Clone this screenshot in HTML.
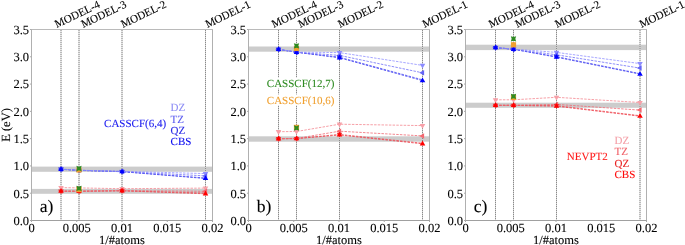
<!DOCTYPE html>
<html><head><meta charset="utf-8"><style>
html,body{margin:0;padding:0;background:#fff;}
svg{display:block;}
text{font-family:"Liberation Serif", serif;text-rendering:geometricPrecision;}
</style></head><body>
<svg width="685" height="245" viewBox="0 0 685 245" font-family="Liberation Serif, serif" style="will-change:transform">
<rect width="685" height="245" fill="#fff"/>
<rect x="32.00" y="166.60" width="180.00" height="5.20" fill="#cccccc"/>
<rect x="32.00" y="188.90" width="180.00" height="4.90" fill="#cccccc"/>
<line x1="61.00" y1="30.00" x2="61.00" y2="220.50" stroke="#d2d2d2" stroke-width="1"/>
<line x1="61.00" y1="30.00" x2="61.00" y2="220.50" stroke="#8a8a8a" stroke-width="1" stroke-dasharray="1,1"/>
<line x1="79.00" y1="30.00" x2="79.00" y2="220.50" stroke="#d2d2d2" stroke-width="1"/>
<line x1="79.00" y1="30.00" x2="79.00" y2="220.50" stroke="#8a8a8a" stroke-width="1" stroke-dasharray="1,1"/>
<line x1="122.00" y1="30.00" x2="122.00" y2="220.50" stroke="#d2d2d2" stroke-width="1"/>
<line x1="122.00" y1="30.00" x2="122.00" y2="220.50" stroke="#8a8a8a" stroke-width="1" stroke-dasharray="1,1"/>
<line x1="205.50" y1="30.00" x2="205.50" y2="220.50" stroke="#d2d2d2" stroke-width="1"/>
<line x1="205.50" y1="30.00" x2="205.50" y2="220.50" stroke="#8a8a8a" stroke-width="1" stroke-dasharray="1,1"/>
<line x1="31.50" y1="29.00" x2="31.50" y2="221.00" stroke="#b0b0b0" stroke-width="1"/>
<line x1="212.50" y1="29.00" x2="212.50" y2="221.00" stroke="#b0b0b0" stroke-width="1"/>
<line x1="31.00" y1="29.50" x2="213.00" y2="29.50" stroke="#bababa" stroke-width="1"/>
<line x1="31.00" y1="220.50" x2="213.00" y2="220.50" stroke="#a0a0a0" stroke-width="1"/>
<line x1="30.00" y1="220.50" x2="31.50" y2="220.50" stroke="#aaaaaa" stroke-width="1"/>
<line x1="30.00" y1="193.21" x2="31.50" y2="193.21" stroke="#aaaaaa" stroke-width="1"/>
<line x1="30.00" y1="165.93" x2="31.50" y2="165.93" stroke="#aaaaaa" stroke-width="1"/>
<line x1="30.00" y1="138.64" x2="31.50" y2="138.64" stroke="#aaaaaa" stroke-width="1"/>
<line x1="30.00" y1="111.36" x2="31.50" y2="111.36" stroke="#aaaaaa" stroke-width="1"/>
<line x1="30.00" y1="84.07" x2="31.50" y2="84.07" stroke="#aaaaaa" stroke-width="1"/>
<line x1="30.00" y1="56.79" x2="31.50" y2="56.79" stroke="#aaaaaa" stroke-width="1"/>
<line x1="30.00" y1="29.50" x2="31.50" y2="29.50" stroke="#aaaaaa" stroke-width="1"/>
<line x1="31.50" y1="220.50" x2="31.50" y2="222.00" stroke="#aaaaaa" stroke-width="1"/>
<line x1="76.75" y1="220.50" x2="76.75" y2="222.00" stroke="#aaaaaa" stroke-width="1"/>
<line x1="122.00" y1="220.50" x2="122.00" y2="222.00" stroke="#aaaaaa" stroke-width="1"/>
<line x1="167.25" y1="220.50" x2="167.25" y2="222.00" stroke="#aaaaaa" stroke-width="1"/>
<line x1="212.50" y1="220.50" x2="212.50" y2="222.00" stroke="#aaaaaa" stroke-width="1"/>
<polyline points="61.00,191.20 79.00,191.30 122.00,190.80 205.50,193.80" fill="none" stroke="#f0404c" stroke-width="0.80" stroke-dasharray="2.5,1.2"/>
<polyline points="61.00,191.20 79.00,191.20 122.00,190.70 205.50,193.00" fill="none" stroke="#ee5058" stroke-width="0.80" stroke-dasharray="2.5,1.2"/>
<polyline points="61.00,191.10 79.00,191.20 122.00,190.60 205.50,191.30" fill="none" stroke="#f06a74" stroke-width="0.80" stroke-dasharray="2.5,1.2"/>
<polyline points="61.00,187.60 79.00,187.90 122.00,188.70 205.50,188.10" fill="none" stroke="#f48890" stroke-width="0.80" stroke-dasharray="2.5,1.2"/>
<polyline points="61.00,169.30 79.00,170.40 122.00,171.70 205.50,178.50" fill="none" stroke="#3a3af0" stroke-width="0.80" stroke-dasharray="2.5,1.2"/>
<polyline points="61.00,169.20 79.00,170.30 122.00,171.60 205.50,178.00" fill="none" stroke="#5050f2" stroke-width="0.80" stroke-dasharray="2.5,1.2"/>
<polyline points="61.00,169.20 79.00,170.30 122.00,171.50 205.50,175.90" fill="none" stroke="#7070f8" stroke-width="0.80" stroke-dasharray="2.5,1.2"/>
<polyline points="61.00,169.10 79.00,170.20 122.00,171.30 205.50,173.60" fill="none" stroke="#9090ff" stroke-width="0.80" stroke-dasharray="2.5,1.2"/>
<polygon points="61.00,190.80 58.23,186.00 63.77,186.00" fill="#f7a0a8"/>
<polygon points="79.00,191.10 76.23,186.30 81.77,186.30" fill="#f7a0a8"/>
<polygon points="122.00,191.90 119.23,187.10 124.77,187.10" fill="#f7a0a8"/>
<polygon points="205.50,191.30 202.73,186.50 208.27,186.50" fill="#f7a0a8"/>
<polygon points="57.80,191.10 62.60,188.33 62.60,193.87" fill="#f46870"/>
<polygon points="75.80,191.20 80.60,188.43 80.60,193.97" fill="#f46870"/>
<polygon points="118.80,190.60 123.60,187.83 123.60,193.37" fill="#f46870"/>
<polygon points="202.30,191.30 207.10,188.53 207.10,194.07" fill="#f46870"/>
<polygon points="61.00,194.40 58.23,189.60 63.77,189.60" fill="#ee3434"/>
<polygon points="79.00,194.40 76.23,189.60 81.77,189.60" fill="#ee3434"/>
<polygon points="122.00,193.90 119.23,189.10 124.77,189.10" fill="#ee3434"/>
<polygon points="61.00,188.00 58.23,192.80 63.77,192.80" fill="#ff0000"/>
<polygon points="79.00,188.10 76.23,192.90 81.77,192.90" fill="#ff0000"/>
<polygon points="122.00,187.60 119.23,192.40 124.77,192.40" fill="#ff0000"/>
<polygon points="205.50,190.60 202.73,195.40 208.27,195.40" fill="#ff0000"/>
<polygon points="61.00,172.30 58.23,167.50 63.77,167.50" fill="#8c8cff"/>
<polygon points="79.00,173.40 76.23,168.60 81.77,168.60" fill="#8c8cff"/>
<polygon points="122.00,174.50 119.23,169.70 124.77,169.70" fill="#8c8cff"/>
<polygon points="205.50,176.80 202.73,172.00 208.27,172.00" fill="#8c8cff"/>
<polygon points="57.80,169.20 62.60,166.43 62.60,171.97" fill="#6464f5"/>
<polygon points="75.80,170.30 80.60,167.53 80.60,173.07" fill="#6464f5"/>
<polygon points="118.80,171.50 123.60,168.73 123.60,174.27" fill="#6464f5"/>
<polygon points="202.30,175.90 207.10,173.13 207.10,178.67" fill="#6464f5"/>
<polygon points="61.00,172.40 58.23,167.60 63.77,167.60" fill="#3232ee"/>
<polygon points="79.00,173.50 76.23,168.70 81.77,168.70" fill="#3232ee"/>
<polygon points="122.00,174.80 119.23,170.00 124.77,170.00" fill="#3232ee"/>
<polygon points="61.00,166.10 58.23,170.90 63.77,170.90" fill="#0000ff"/>
<polygon points="79.00,167.20 76.23,172.00 81.77,172.00" fill="#0000ff"/>
<polygon points="122.00,168.50 119.23,173.30 124.77,173.30" fill="#0000ff"/>
<polygon points="205.50,175.30 202.73,180.10 208.27,180.10" fill="#0000ff"/>
<rect x="76.40" y="167.40" width="5.20" height="5.20" fill="#f0a030"/>
<polygon points="76.35,165.85 79.00,166.65 81.65,165.85 80.85,168.50 81.65,171.15 79.00,170.35 76.35,171.15 77.15,168.50" fill="#2e8b22"/>
<rect x="76.40" y="187.00" width="5.20" height="5.20" fill="#f0a030"/>
<polygon points="76.35,185.65 79.00,186.45 81.65,185.65 80.85,188.30 81.65,190.95 79.00,190.15 76.35,190.95 77.15,188.30" fill="#2e8b22"/>
<rect x="249.00" y="46.50" width="180.00" height="5.20" fill="#cccccc"/>
<rect x="249.00" y="136.30" width="180.00" height="5.40" fill="#cccccc"/>
<line x1="278.50" y1="30.00" x2="278.50" y2="220.50" stroke="#d2d2d2" stroke-width="1"/>
<line x1="278.50" y1="30.00" x2="278.50" y2="220.50" stroke="#8a8a8a" stroke-width="1" stroke-dasharray="1,1"/>
<line x1="296.50" y1="30.00" x2="296.50" y2="220.50" stroke="#d2d2d2" stroke-width="1"/>
<line x1="296.50" y1="30.00" x2="296.50" y2="220.50" stroke="#8a8a8a" stroke-width="1" stroke-dasharray="1,1"/>
<line x1="339.50" y1="30.00" x2="339.50" y2="220.50" stroke="#d2d2d2" stroke-width="1"/>
<line x1="339.50" y1="30.00" x2="339.50" y2="220.50" stroke="#8a8a8a" stroke-width="1" stroke-dasharray="1,1"/>
<line x1="422.50" y1="30.00" x2="422.50" y2="220.50" stroke="#d2d2d2" stroke-width="1"/>
<line x1="422.50" y1="30.00" x2="422.50" y2="220.50" stroke="#8a8a8a" stroke-width="1" stroke-dasharray="1,1"/>
<line x1="248.50" y1="29.00" x2="248.50" y2="221.00" stroke="#b0b0b0" stroke-width="1"/>
<line x1="429.50" y1="29.00" x2="429.50" y2="221.00" stroke="#b0b0b0" stroke-width="1"/>
<line x1="248.00" y1="29.50" x2="430.00" y2="29.50" stroke="#bababa" stroke-width="1"/>
<line x1="248.00" y1="220.50" x2="430.00" y2="220.50" stroke="#a0a0a0" stroke-width="1"/>
<line x1="247.00" y1="220.50" x2="248.50" y2="220.50" stroke="#aaaaaa" stroke-width="1"/>
<line x1="247.00" y1="193.21" x2="248.50" y2="193.21" stroke="#aaaaaa" stroke-width="1"/>
<line x1="247.00" y1="165.93" x2="248.50" y2="165.93" stroke="#aaaaaa" stroke-width="1"/>
<line x1="247.00" y1="138.64" x2="248.50" y2="138.64" stroke="#aaaaaa" stroke-width="1"/>
<line x1="247.00" y1="111.36" x2="248.50" y2="111.36" stroke="#aaaaaa" stroke-width="1"/>
<line x1="247.00" y1="84.07" x2="248.50" y2="84.07" stroke="#aaaaaa" stroke-width="1"/>
<line x1="247.00" y1="56.79" x2="248.50" y2="56.79" stroke="#aaaaaa" stroke-width="1"/>
<line x1="247.00" y1="29.50" x2="248.50" y2="29.50" stroke="#aaaaaa" stroke-width="1"/>
<line x1="248.50" y1="220.50" x2="248.50" y2="222.00" stroke="#aaaaaa" stroke-width="1"/>
<line x1="293.75" y1="220.50" x2="293.75" y2="222.00" stroke="#aaaaaa" stroke-width="1"/>
<line x1="339.00" y1="220.50" x2="339.00" y2="222.00" stroke="#aaaaaa" stroke-width="1"/>
<line x1="384.25" y1="220.50" x2="384.25" y2="222.00" stroke="#aaaaaa" stroke-width="1"/>
<line x1="429.50" y1="220.50" x2="429.50" y2="222.00" stroke="#aaaaaa" stroke-width="1"/>
<polyline points="278.50,138.80 296.50,138.60 339.50,135.00 422.50,143.80" fill="none" stroke="#f0404c" stroke-width="0.80" stroke-dasharray="2.5,1.2"/>
<polyline points="278.50,138.70 296.50,138.50 339.50,134.40 422.50,143.20" fill="none" stroke="#ee5058" stroke-width="0.80" stroke-dasharray="2.5,1.2"/>
<polyline points="278.50,138.60 296.50,138.40 339.50,131.20 422.50,135.90" fill="none" stroke="#f06a74" stroke-width="0.80" stroke-dasharray="2.5,1.2"/>
<polyline points="278.50,131.70 296.50,131.50 339.50,124.20 422.50,125.60" fill="none" stroke="#f48890" stroke-width="0.80" stroke-dasharray="2.5,1.2"/>
<polyline points="278.50,49.40 296.50,52.30 339.50,57.80 422.50,80.60" fill="none" stroke="#3a3af0" stroke-width="0.80" stroke-dasharray="2.5,1.2"/>
<polyline points="278.50,49.30 296.50,52.20 339.50,57.20 422.50,79.80" fill="none" stroke="#5050f2" stroke-width="0.80" stroke-dasharray="2.5,1.2"/>
<polyline points="278.50,49.30 296.50,52.20 339.50,55.40 422.50,72.80" fill="none" stroke="#7070f8" stroke-width="0.80" stroke-dasharray="2.5,1.2"/>
<polyline points="278.50,49.20 296.50,52.10 339.50,52.60 422.50,65.40" fill="none" stroke="#9090ff" stroke-width="0.80" stroke-dasharray="2.5,1.2"/>
<polygon points="278.50,134.90 275.73,130.10 281.27,130.10" fill="#f7a0a8"/>
<polygon points="296.50,134.70 293.73,129.90 299.27,129.90" fill="#f7a0a8"/>
<polygon points="339.50,127.40 336.73,122.60 342.27,122.60" fill="#f7a0a8"/>
<polygon points="422.50,128.80 419.73,124.00 425.27,124.00" fill="#f7a0a8"/>
<polygon points="275.30,138.60 280.10,135.83 280.10,141.37" fill="#f46870"/>
<polygon points="293.30,138.40 298.10,135.63 298.10,141.17" fill="#f46870"/>
<polygon points="336.30,131.20 341.10,128.43 341.10,133.97" fill="#f46870"/>
<polygon points="419.30,135.90 424.10,133.13 424.10,138.67" fill="#f46870"/>
<polygon points="278.50,141.90 275.73,137.10 281.27,137.10" fill="#ee3434"/>
<polygon points="296.50,141.70 293.73,136.90 299.27,136.90" fill="#ee3434"/>
<polygon points="339.50,137.60 336.73,132.80 342.27,132.80" fill="#ee3434"/>
<polygon points="278.50,135.60 275.73,140.40 281.27,140.40" fill="#ff0000"/>
<polygon points="296.50,135.40 293.73,140.20 299.27,140.20" fill="#ff0000"/>
<polygon points="339.50,131.80 336.73,136.60 342.27,136.60" fill="#ff0000"/>
<polygon points="422.50,140.60 419.73,145.40 425.27,145.40" fill="#ff0000"/>
<polygon points="278.50,52.40 275.73,47.60 281.27,47.60" fill="#8c8cff"/>
<polygon points="296.50,55.30 293.73,50.50 299.27,50.50" fill="#8c8cff"/>
<polygon points="339.50,55.80 336.73,51.00 342.27,51.00" fill="#8c8cff"/>
<polygon points="422.50,68.60 419.73,63.80 425.27,63.80" fill="#8c8cff"/>
<polygon points="275.30,49.30 280.10,46.53 280.10,52.07" fill="#6464f5"/>
<polygon points="293.30,52.20 298.10,49.43 298.10,54.97" fill="#6464f5"/>
<polygon points="336.30,55.40 341.10,52.63 341.10,58.17" fill="#6464f5"/>
<polygon points="419.30,72.80 424.10,70.03 424.10,75.57" fill="#6464f5"/>
<polygon points="278.50,52.50 275.73,47.70 281.27,47.70" fill="#3232ee"/>
<polygon points="296.50,55.40 293.73,50.60 299.27,50.60" fill="#3232ee"/>
<polygon points="339.50,60.40 336.73,55.60 342.27,55.60" fill="#3232ee"/>
<polygon points="278.50,46.20 275.73,51.00 281.27,51.00" fill="#0000ff"/>
<polygon points="296.50,49.10 293.73,53.90 299.27,53.90" fill="#0000ff"/>
<polygon points="339.50,54.60 336.73,59.40 342.27,59.40" fill="#0000ff"/>
<polygon points="422.50,77.40 419.73,82.20 425.27,82.20" fill="#0000ff"/>
<rect x="293.90" y="45.90" width="5.20" height="5.20" fill="#f0a030"/>
<polygon points="293.85,43.15 296.50,43.95 299.15,43.15 298.35,45.80 299.15,48.45 296.50,47.65 293.85,48.45 294.65,45.80" fill="#2e8b22"/>
<rect x="293.90" y="124.80" width="5.20" height="5.20" fill="#f0a030"/>
<polygon points="293.85,125.35 296.50,126.15 299.15,125.35 298.35,128.00 299.15,130.65 296.50,129.85 293.85,130.65 294.65,128.00" fill="#2e8b22"/>
<rect x="466.00" y="44.70" width="180.00" height="5.40" fill="#cccccc"/>
<rect x="466.00" y="102.70" width="180.00" height="5.10" fill="#cccccc"/>
<line x1="495.50" y1="30.00" x2="495.50" y2="220.50" stroke="#d2d2d2" stroke-width="1"/>
<line x1="495.50" y1="30.00" x2="495.50" y2="220.50" stroke="#8a8a8a" stroke-width="1" stroke-dasharray="1,1"/>
<line x1="513.50" y1="30.00" x2="513.50" y2="220.50" stroke="#d2d2d2" stroke-width="1"/>
<line x1="513.50" y1="30.00" x2="513.50" y2="220.50" stroke="#8a8a8a" stroke-width="1" stroke-dasharray="1,1"/>
<line x1="556.50" y1="30.00" x2="556.50" y2="220.50" stroke="#d2d2d2" stroke-width="1"/>
<line x1="556.50" y1="30.00" x2="556.50" y2="220.50" stroke="#8a8a8a" stroke-width="1" stroke-dasharray="1,1"/>
<line x1="640.00" y1="30.00" x2="640.00" y2="220.50" stroke="#d2d2d2" stroke-width="1"/>
<line x1="640.00" y1="30.00" x2="640.00" y2="220.50" stroke="#8a8a8a" stroke-width="1" stroke-dasharray="1,1"/>
<line x1="465.50" y1="29.00" x2="465.50" y2="221.00" stroke="#b0b0b0" stroke-width="1"/>
<line x1="646.50" y1="29.00" x2="646.50" y2="221.00" stroke="#b0b0b0" stroke-width="1"/>
<line x1="465.00" y1="29.50" x2="647.00" y2="29.50" stroke="#bababa" stroke-width="1"/>
<line x1="465.00" y1="220.50" x2="647.00" y2="220.50" stroke="#a0a0a0" stroke-width="1"/>
<line x1="464.00" y1="220.50" x2="465.50" y2="220.50" stroke="#aaaaaa" stroke-width="1"/>
<line x1="464.00" y1="193.21" x2="465.50" y2="193.21" stroke="#aaaaaa" stroke-width="1"/>
<line x1="464.00" y1="165.93" x2="465.50" y2="165.93" stroke="#aaaaaa" stroke-width="1"/>
<line x1="464.00" y1="138.64" x2="465.50" y2="138.64" stroke="#aaaaaa" stroke-width="1"/>
<line x1="464.00" y1="111.36" x2="465.50" y2="111.36" stroke="#aaaaaa" stroke-width="1"/>
<line x1="464.00" y1="84.07" x2="465.50" y2="84.07" stroke="#aaaaaa" stroke-width="1"/>
<line x1="464.00" y1="56.79" x2="465.50" y2="56.79" stroke="#aaaaaa" stroke-width="1"/>
<line x1="464.00" y1="29.50" x2="465.50" y2="29.50" stroke="#aaaaaa" stroke-width="1"/>
<line x1="465.50" y1="220.50" x2="465.50" y2="222.00" stroke="#aaaaaa" stroke-width="1"/>
<line x1="510.75" y1="220.50" x2="510.75" y2="222.00" stroke="#aaaaaa" stroke-width="1"/>
<line x1="556.00" y1="220.50" x2="556.00" y2="222.00" stroke="#aaaaaa" stroke-width="1"/>
<line x1="601.25" y1="220.50" x2="601.25" y2="222.00" stroke="#aaaaaa" stroke-width="1"/>
<line x1="646.50" y1="220.50" x2="646.50" y2="222.00" stroke="#aaaaaa" stroke-width="1"/>
<polyline points="495.50,105.40 513.50,105.40 556.50,106.20 640.00,116.20" fill="none" stroke="#f0404c" stroke-width="0.80" stroke-dasharray="2.5,1.2"/>
<polyline points="495.50,105.30 513.50,105.30 556.50,105.60 640.00,115.70" fill="none" stroke="#ee5058" stroke-width="0.80" stroke-dasharray="2.5,1.2"/>
<polyline points="495.50,105.20 513.50,105.20 556.50,104.40 640.00,110.10" fill="none" stroke="#f06a74" stroke-width="0.80" stroke-dasharray="2.5,1.2"/>
<polyline points="495.50,99.80 513.50,99.80 556.50,97.30 640.00,102.50" fill="none" stroke="#f48890" stroke-width="0.80" stroke-dasharray="2.5,1.2"/>
<polyline points="495.50,47.70 513.50,49.30 556.50,57.20 640.00,74.10" fill="none" stroke="#3a3af0" stroke-width="0.80" stroke-dasharray="2.5,1.2"/>
<polyline points="495.50,47.60 513.50,49.20 556.50,56.60 640.00,73.60" fill="none" stroke="#5050f2" stroke-width="0.80" stroke-dasharray="2.5,1.2"/>
<polyline points="495.50,47.60 513.50,49.20 556.50,54.80 640.00,68.10" fill="none" stroke="#7070f8" stroke-width="0.80" stroke-dasharray="2.5,1.2"/>
<polyline points="495.50,47.50 513.50,49.10 556.50,52.40 640.00,63.60" fill="none" stroke="#9090ff" stroke-width="0.80" stroke-dasharray="2.5,1.2"/>
<polygon points="495.50,103.00 492.73,98.20 498.27,98.20" fill="#f7a0a8"/>
<polygon points="513.50,103.00 510.73,98.20 516.27,98.20" fill="#f7a0a8"/>
<polygon points="556.50,100.50 553.73,95.70 559.27,95.70" fill="#f7a0a8"/>
<polygon points="640.00,105.70 637.23,100.90 642.77,100.90" fill="#f7a0a8"/>
<polygon points="492.30,105.20 497.10,102.43 497.10,107.97" fill="#f46870"/>
<polygon points="510.30,105.20 515.10,102.43 515.10,107.97" fill="#f46870"/>
<polygon points="553.30,104.40 558.10,101.63 558.10,107.17" fill="#f46870"/>
<polygon points="636.80,110.10 641.60,107.33 641.60,112.87" fill="#f46870"/>
<polygon points="495.50,108.50 492.73,103.70 498.27,103.70" fill="#ee3434"/>
<polygon points="513.50,108.50 510.73,103.70 516.27,103.70" fill="#ee3434"/>
<polygon points="556.50,108.80 553.73,104.00 559.27,104.00" fill="#ee3434"/>
<polygon points="495.50,102.20 492.73,107.00 498.27,107.00" fill="#ff0000"/>
<polygon points="513.50,102.20 510.73,107.00 516.27,107.00" fill="#ff0000"/>
<polygon points="556.50,103.00 553.73,107.80 559.27,107.80" fill="#ff0000"/>
<polygon points="640.00,113.00 637.23,117.80 642.77,117.80" fill="#ff0000"/>
<polygon points="495.50,50.70 492.73,45.90 498.27,45.90" fill="#8c8cff"/>
<polygon points="513.50,52.30 510.73,47.50 516.27,47.50" fill="#8c8cff"/>
<polygon points="556.50,55.60 553.73,50.80 559.27,50.80" fill="#8c8cff"/>
<polygon points="640.00,66.80 637.23,62.00 642.77,62.00" fill="#8c8cff"/>
<polygon points="492.30,47.60 497.10,44.83 497.10,50.37" fill="#6464f5"/>
<polygon points="510.30,49.20 515.10,46.43 515.10,51.97" fill="#6464f5"/>
<polygon points="553.30,54.80 558.10,52.03 558.10,57.57" fill="#6464f5"/>
<polygon points="636.80,68.10 641.60,65.33 641.60,70.87" fill="#6464f5"/>
<polygon points="495.50,50.80 492.73,46.00 498.27,46.00" fill="#3232ee"/>
<polygon points="513.50,52.40 510.73,47.60 516.27,47.60" fill="#3232ee"/>
<polygon points="556.50,59.80 553.73,55.00 559.27,55.00" fill="#3232ee"/>
<polygon points="495.50,44.50 492.73,49.30 498.27,49.30" fill="#0000ff"/>
<polygon points="513.50,46.10 510.73,50.90 516.27,50.90" fill="#0000ff"/>
<polygon points="556.50,54.00 553.73,58.80 559.27,58.80" fill="#0000ff"/>
<polygon points="640.00,70.90 637.23,75.70 642.77,75.70" fill="#0000ff"/>
<rect x="510.90" y="42.20" width="5.20" height="5.20" fill="#f0a030"/>
<polygon points="510.85,36.15 513.50,36.95 516.15,36.15 515.35,38.80 516.15,41.45 513.50,40.65 510.85,41.45 511.65,38.80" fill="#2e8b22"/>
<rect x="510.90" y="94.80" width="5.20" height="5.20" fill="#f0a030"/>
<polygon points="510.85,93.65 513.50,94.45 516.15,93.65 515.35,96.30 516.15,98.95 513.50,98.15 510.85,98.95 511.65,96.30" fill="#2e8b22"/>
<text x="29.00" y="224.80" font-size="12.50" text-anchor="end" fill="#000" stroke="#000" stroke-width="0.10">0.0</text>
<text x="29.00" y="197.51" font-size="12.50" text-anchor="end" fill="#000" stroke="#000" stroke-width="0.10">0.5</text>
<text x="29.00" y="170.23" font-size="12.50" text-anchor="end" fill="#000" stroke="#000" stroke-width="0.10">1.0</text>
<text x="29.00" y="142.94" font-size="12.50" text-anchor="end" fill="#000" stroke="#000" stroke-width="0.10">1.5</text>
<text x="29.00" y="115.66" font-size="12.50" text-anchor="end" fill="#000" stroke="#000" stroke-width="0.10">2.0</text>
<text x="29.00" y="88.37" font-size="12.50" text-anchor="end" fill="#000" stroke="#000" stroke-width="0.10">2.5</text>
<text x="29.00" y="61.09" font-size="12.50" text-anchor="end" fill="#000" stroke="#000" stroke-width="0.10">3.0</text>
<text x="29.00" y="33.80" font-size="12.50" text-anchor="end" fill="#000" stroke="#000" stroke-width="0.10">3.5</text>
<text x="31.50" y="231.60" font-size="12.50" text-anchor="middle" fill="#000" stroke="#000" stroke-width="0.10">0</text>
<text x="76.75" y="231.60" font-size="12.50" text-anchor="middle" fill="#000" stroke="#000" stroke-width="0.10">0.005</text>
<text x="122.00" y="231.60" font-size="12.50" text-anchor="middle" fill="#000" stroke="#000" stroke-width="0.10">0.01</text>
<text x="167.25" y="231.60" font-size="12.50" text-anchor="middle" fill="#000" stroke="#000" stroke-width="0.10">0.015</text>
<text x="212.50" y="231.60" font-size="12.50" text-anchor="middle" fill="#000" stroke="#000" stroke-width="0.10">0.02</text>
<text x="122.00" y="243.50" font-size="12.50" text-anchor="middle" fill="#000" stroke="#000" stroke-width="0.10">1/#atoms</text>
<text x="39.80" y="212.30" font-size="17.60" text-anchor="start" fill="#000" stroke="#000" stroke-width="0.10">a)</text>
<text x="246.00" y="224.80" font-size="12.50" text-anchor="end" fill="#000" stroke="#000" stroke-width="0.10">0.0</text>
<text x="246.00" y="197.51" font-size="12.50" text-anchor="end" fill="#000" stroke="#000" stroke-width="0.10">0.5</text>
<text x="246.00" y="170.23" font-size="12.50" text-anchor="end" fill="#000" stroke="#000" stroke-width="0.10">1.0</text>
<text x="246.00" y="142.94" font-size="12.50" text-anchor="end" fill="#000" stroke="#000" stroke-width="0.10">1.5</text>
<text x="246.00" y="115.66" font-size="12.50" text-anchor="end" fill="#000" stroke="#000" stroke-width="0.10">2.0</text>
<text x="246.00" y="88.37" font-size="12.50" text-anchor="end" fill="#000" stroke="#000" stroke-width="0.10">2.5</text>
<text x="246.00" y="61.09" font-size="12.50" text-anchor="end" fill="#000" stroke="#000" stroke-width="0.10">3.0</text>
<text x="246.00" y="33.80" font-size="12.50" text-anchor="end" fill="#000" stroke="#000" stroke-width="0.10">3.5</text>
<text x="248.50" y="231.60" font-size="12.50" text-anchor="middle" fill="#000" stroke="#000" stroke-width="0.10">0</text>
<text x="293.75" y="231.60" font-size="12.50" text-anchor="middle" fill="#000" stroke="#000" stroke-width="0.10">0.005</text>
<text x="339.00" y="231.60" font-size="12.50" text-anchor="middle" fill="#000" stroke="#000" stroke-width="0.10">0.01</text>
<text x="384.25" y="231.60" font-size="12.50" text-anchor="middle" fill="#000" stroke="#000" stroke-width="0.10">0.015</text>
<text x="429.50" y="231.60" font-size="12.50" text-anchor="middle" fill="#000" stroke="#000" stroke-width="0.10">0.02</text>
<text x="339.00" y="243.50" font-size="12.50" text-anchor="middle" fill="#000" stroke="#000" stroke-width="0.10">1/#atoms</text>
<text x="256.80" y="212.30" font-size="17.60" text-anchor="start" fill="#000" stroke="#000" stroke-width="0.10">b)</text>
<text x="463.00" y="224.80" font-size="12.50" text-anchor="end" fill="#000" stroke="#000" stroke-width="0.10">0.0</text>
<text x="463.00" y="197.51" font-size="12.50" text-anchor="end" fill="#000" stroke="#000" stroke-width="0.10">0.5</text>
<text x="463.00" y="170.23" font-size="12.50" text-anchor="end" fill="#000" stroke="#000" stroke-width="0.10">1.0</text>
<text x="463.00" y="142.94" font-size="12.50" text-anchor="end" fill="#000" stroke="#000" stroke-width="0.10">1.5</text>
<text x="463.00" y="115.66" font-size="12.50" text-anchor="end" fill="#000" stroke="#000" stroke-width="0.10">2.0</text>
<text x="463.00" y="88.37" font-size="12.50" text-anchor="end" fill="#000" stroke="#000" stroke-width="0.10">2.5</text>
<text x="463.00" y="61.09" font-size="12.50" text-anchor="end" fill="#000" stroke="#000" stroke-width="0.10">3.0</text>
<text x="463.00" y="33.80" font-size="12.50" text-anchor="end" fill="#000" stroke="#000" stroke-width="0.10">3.5</text>
<text x="465.50" y="231.60" font-size="12.50" text-anchor="middle" fill="#000" stroke="#000" stroke-width="0.10">0</text>
<text x="510.75" y="231.60" font-size="12.50" text-anchor="middle" fill="#000" stroke="#000" stroke-width="0.10">0.005</text>
<text x="556.00" y="231.60" font-size="12.50" text-anchor="middle" fill="#000" stroke="#000" stroke-width="0.10">0.01</text>
<text x="601.25" y="231.60" font-size="12.50" text-anchor="middle" fill="#000" stroke="#000" stroke-width="0.10">0.015</text>
<text x="646.50" y="231.60" font-size="12.50" text-anchor="middle" fill="#000" stroke="#000" stroke-width="0.10">0.02</text>
<text x="556.00" y="243.50" font-size="12.50" text-anchor="middle" fill="#000" stroke="#000" stroke-width="0.10">1/#atoms</text>
<text x="473.80" y="212.30" font-size="17.60" text-anchor="start" fill="#000" stroke="#000" stroke-width="0.10">c)</text>
<text x="0.00" y="0.00" font-size="12.50" text-anchor="middle" fill="#000" stroke="#000" stroke-width="0.10" transform="translate(10.2,125) rotate(-90)">E (eV)</text>
<text x="0.00" y="0.00" font-size="11.10" text-anchor="start" fill="#000" stroke="#000" stroke-width="0.10" transform="translate(56.80,27.9) rotate(-25.50)">MODEL-4</text>
<text x="0.00" y="0.00" font-size="11.10" text-anchor="start" fill="#000" stroke="#000" stroke-width="0.10" transform="translate(83.20,27.9) rotate(-25.50)">MODEL-3</text>
<text x="0.00" y="0.00" font-size="11.10" text-anchor="start" fill="#000" stroke="#000" stroke-width="0.10" transform="translate(123.00,27.9) rotate(-25.50)">MODEL-2</text>
<text x="0.00" y="0.00" font-size="11.10" text-anchor="start" fill="#000" stroke="#000" stroke-width="0.10" transform="translate(207.40,27.9) rotate(-25.50)">MODEL-1</text>
<text x="0.00" y="0.00" font-size="11.10" text-anchor="start" fill="#000" stroke="#000" stroke-width="0.10" transform="translate(273.80,27.9) rotate(-25.50)">MODEL-4</text>
<text x="0.00" y="0.00" font-size="11.10" text-anchor="start" fill="#000" stroke="#000" stroke-width="0.10" transform="translate(300.20,27.9) rotate(-25.50)">MODEL-3</text>
<text x="0.00" y="0.00" font-size="11.10" text-anchor="start" fill="#000" stroke="#000" stroke-width="0.10" transform="translate(340.00,27.9) rotate(-25.50)">MODEL-2</text>
<text x="0.00" y="0.00" font-size="11.10" text-anchor="start" fill="#000" stroke="#000" stroke-width="0.10" transform="translate(424.40,27.9) rotate(-25.50)">MODEL-1</text>
<text x="0.00" y="0.00" font-size="11.10" text-anchor="start" fill="#000" stroke="#000" stroke-width="0.10" transform="translate(490.80,27.9) rotate(-25.50)">MODEL-4</text>
<text x="0.00" y="0.00" font-size="11.10" text-anchor="start" fill="#000" stroke="#000" stroke-width="0.10" transform="translate(517.20,27.9) rotate(-25.50)">MODEL-3</text>
<text x="0.00" y="0.00" font-size="11.10" text-anchor="start" fill="#000" stroke="#000" stroke-width="0.10" transform="translate(557.00,27.9) rotate(-25.50)">MODEL-2</text>
<text x="0.00" y="0.00" font-size="11.10" text-anchor="start" fill="#000" stroke="#000" stroke-width="0.10" transform="translate(641.40,27.9) rotate(-25.50)">MODEL-1</text>
<rect x="103.2" y="118.6" width="63.6" height="10.8" fill="#fff"/>
<text x="166.10" y="127.30" font-size="11.00" text-anchor="end" fill="#2020f0" stroke="#2020f0" stroke-width="0.10">CASSCF(6,4)</text>
<text x="170.60" y="111.30" font-size="11.00" text-anchor="start" fill="#8c8cf5" stroke="#8c8cf5" stroke-width="0.10">DZ</text>
<text x="170.60" y="122.65" font-size="11.00" text-anchor="start" fill="#5a5af0" stroke="#5a5af0" stroke-width="0.10">TZ</text>
<text x="170.60" y="134.00" font-size="11.00" text-anchor="start" fill="#2828e6" stroke="#2828e6" stroke-width="0.10">QZ</text>
<text x="170.60" y="145.35" font-size="11.00" text-anchor="start" fill="#0a0af0" stroke="#0a0af0" stroke-width="0.10">CBS</text>
<rect x="265.6" y="77.6" width="70" height="11.0" fill="#fff"/>
<rect x="265.6" y="94.4" width="70" height="11.0" fill="#fff"/>
<text x="266.80" y="86.80" font-size="11.00" text-anchor="start" fill="#2e8b22" stroke="#2e8b22" stroke-width="0.10">CASSCF(12,7)</text>
<text x="266.80" y="103.80" font-size="11.00" text-anchor="start" fill="#f0a030" stroke="#f0a030" stroke-width="0.10">CASSCF(10,6)</text>
<text x="607.80" y="160.40" font-size="11.00" text-anchor="end" fill="#ff1a1a" stroke="#ff1a1a" stroke-width="0.10">NEVPT2</text>
<text x="614.50" y="144.10" font-size="11.00" text-anchor="start" fill="#f4a0a8" stroke="#f4a0a8" stroke-width="0.10">DZ</text>
<text x="614.50" y="155.30" font-size="11.00" text-anchor="start" fill="#f06068" stroke="#f06068" stroke-width="0.10">TZ</text>
<text x="614.50" y="166.50" font-size="11.00" text-anchor="start" fill="#e82020" stroke="#e82020" stroke-width="0.10">QZ</text>
<text x="614.50" y="177.70" font-size="11.00" text-anchor="start" fill="#ff0a0a" stroke="#ff0a0a" stroke-width="0.10">CBS</text>
</svg>
</body></html>
